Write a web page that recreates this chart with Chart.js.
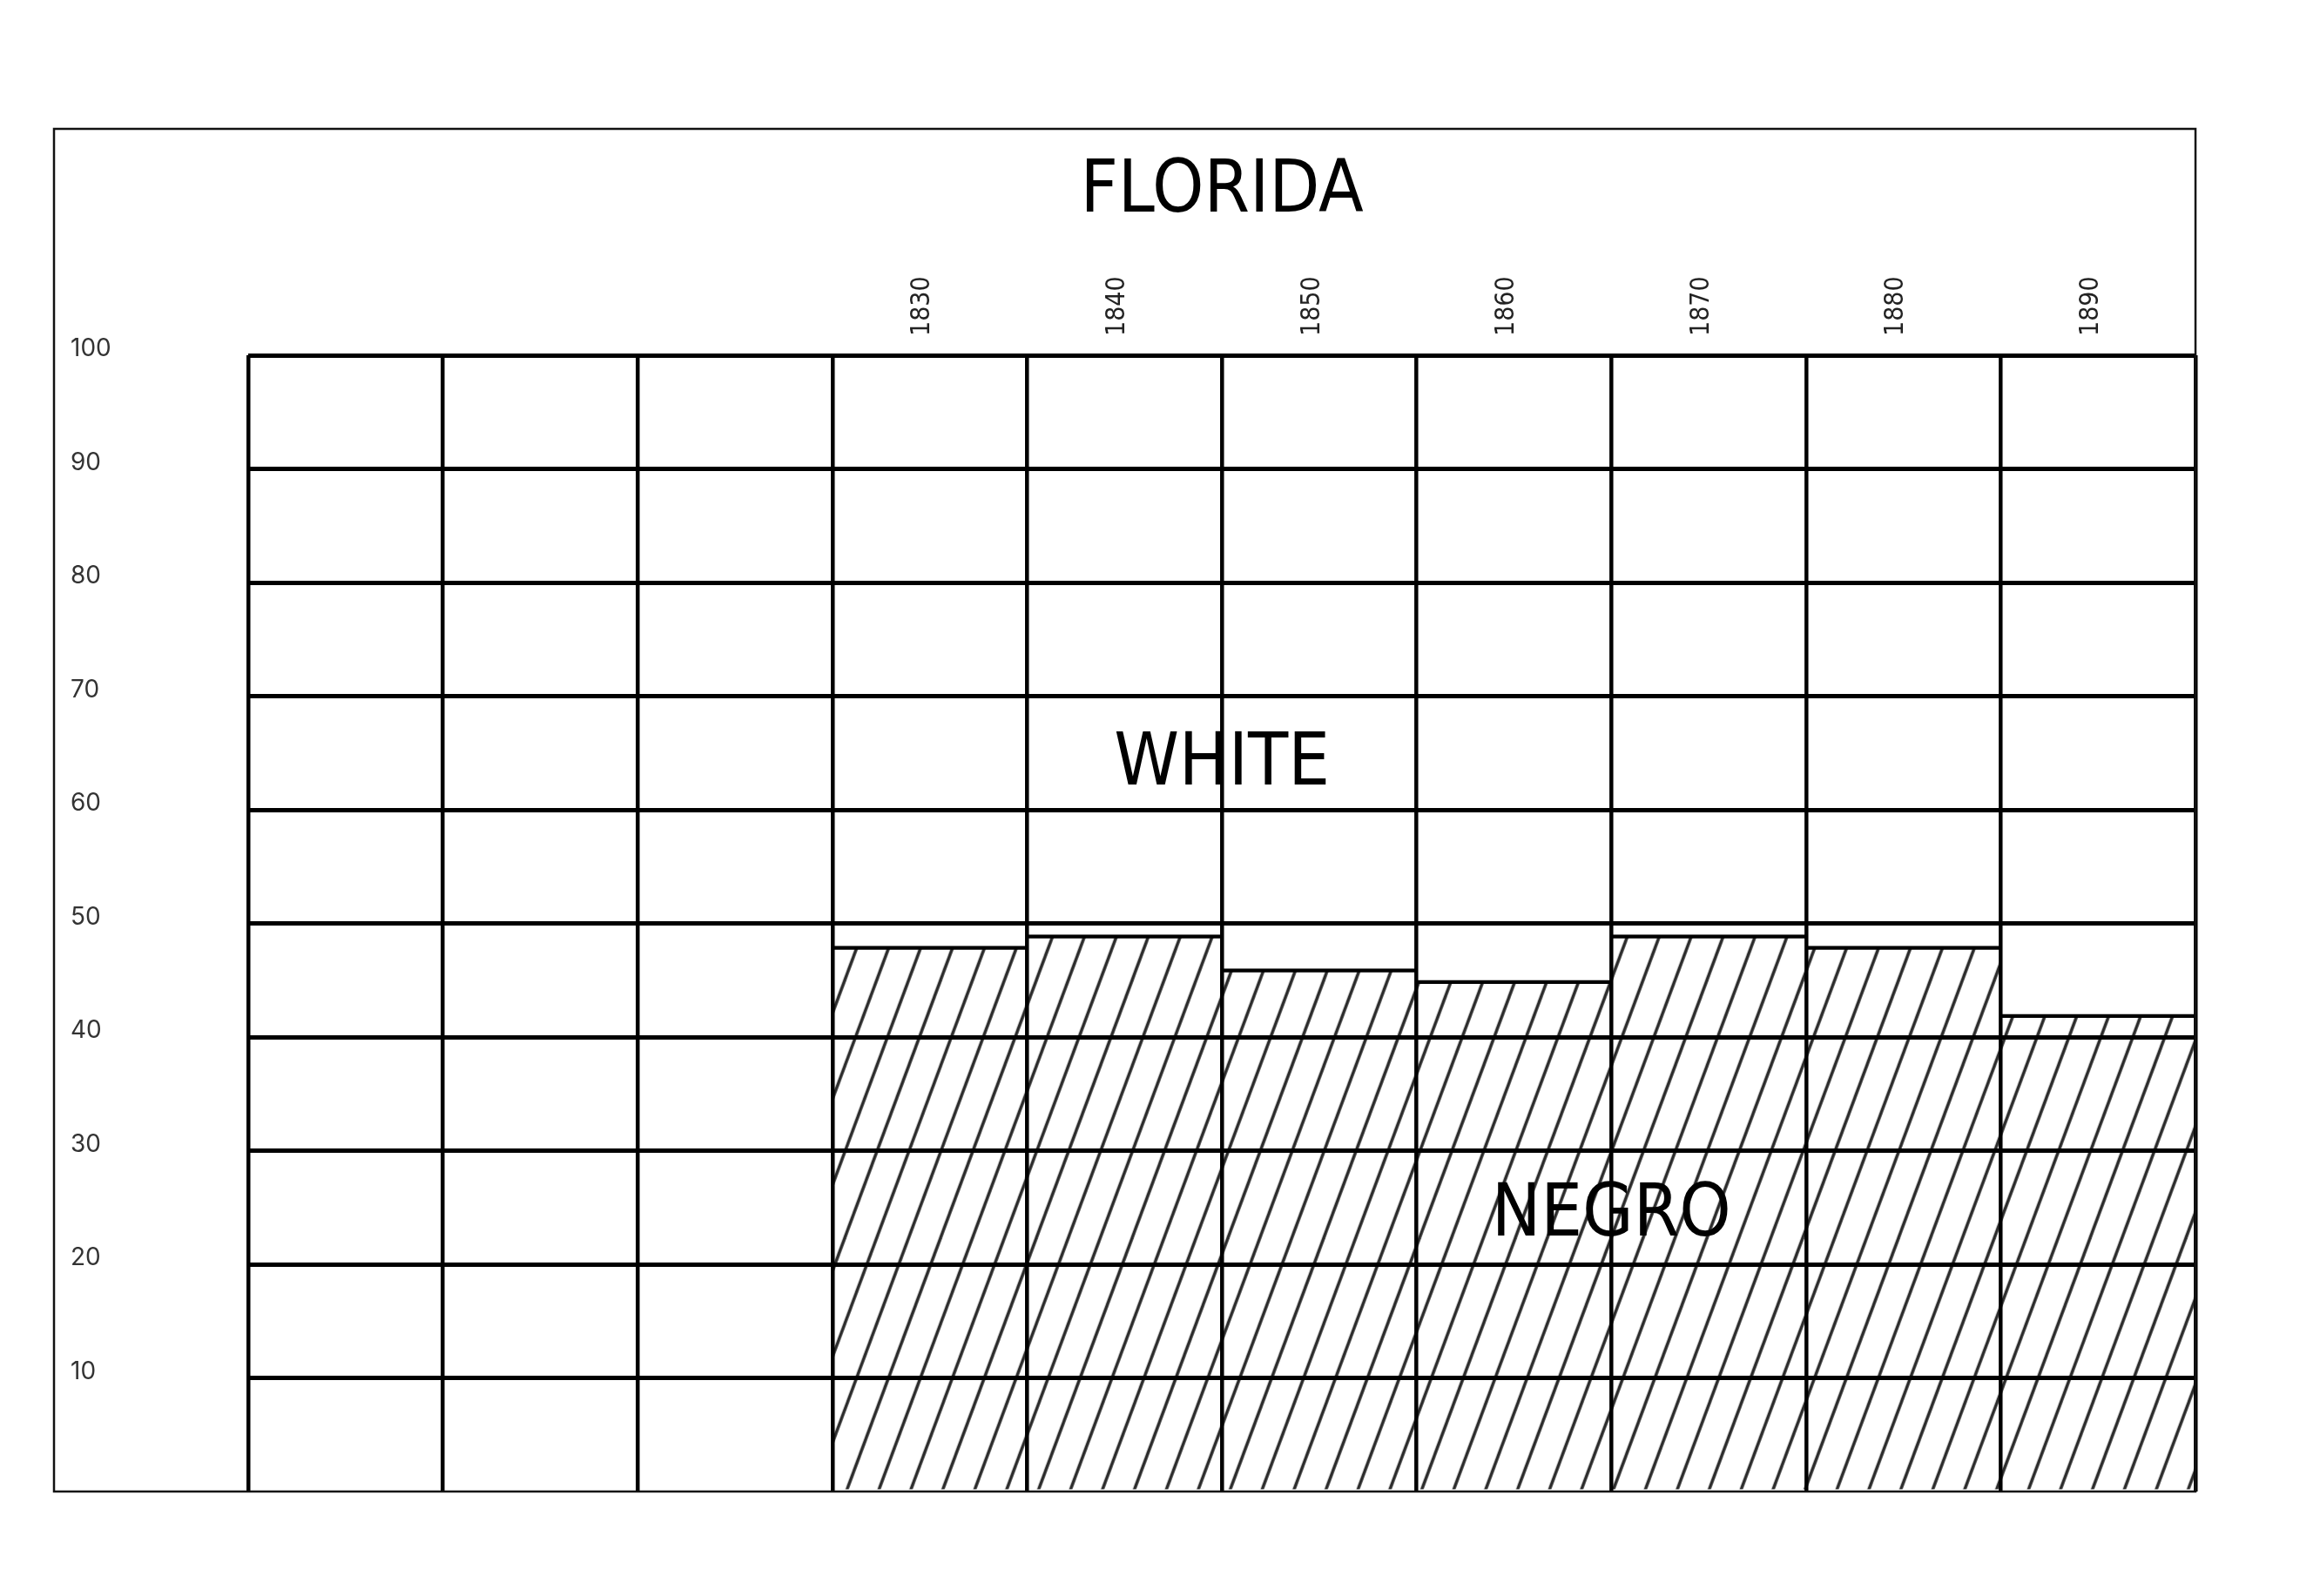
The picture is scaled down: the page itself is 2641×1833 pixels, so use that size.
<!DOCTYPE html>
<html>
<head>
<meta charset="utf-8">
<script src="https://cdn.jsdelivr.net/npm/chart.js@4.4.1/dist/chart.umd.min.js"></script>
<style>
html,body{margin:0;padding:0;background:#fff;}
#wrap{width:2641px;height:1833px;}
</style>
</head>
<body>
<div id="wrap"><canvas id="c" width="2641" height="1833"></canvas></div>
<script>
// ---- data ----
const categories = ['', '', '', '1830', '1840', '1850', '1860', '1870', '1880', '1890'];
const negroPercent = [null, null, null, 48, 49, 46, 45, 49, 48, 42];
const titleText = 'FLORIDA';
const whiteLabel = 'WHITE';
const negroLabel = 'NEGRO';
const whiteLabelValue = 62.2;   // baseline position on the percent axis
const negroLabelValue = 22.5;

// ---- style constants ----
const FRAME_LEFT = 62, FRAME_TOP = 148;
const BIG_FONT = '84px "DejaVu Sans Condensed", "DejaVu Sans", sans-serif';

const canvas = document.getElementById('c');
const mainCtx = canvas.getContext('2d');

function makeHatch() {
  const W = 110, H = 296, S = W / 3;
  const t = document.createElement('canvas');
  t.width = W; t.height = H;
  const g = t.getContext('2d');
  g.fillStyle = '#fff';
  g.fillRect(0, 0, W, H);
  g.strokeStyle = '#2b2b2b';
  g.lineWidth = 3.6;
  const ext = 12, dx = ext * W / H;
  for (let k = -4; k <= 4; k++) {
    const x0 = k * S;
    g.beginPath();
    g.moveTo(x0 - dx, H + ext);
    g.lineTo(x0 + W + dx, -ext);
    g.stroke();
  }
  const p = mainCtx.createPattern(t, 'repeat');
  if (p.setTransform) p.setTransform(new DOMMatrix([1, 0, 0, 1, 2401.7, 1713 - H]));
  return p;
}
const hatch = makeHatch();

const decor = {
  id: 'decor',
  beforeDraw(chart) {
    const ctx = chart.ctx;
    ctx.save();
    ctx.fillStyle = '#fff';
    ctx.fillRect(0, 0, chart.width, chart.height);
    ctx.restore();
  },
  afterDraw(chart) {
    const {ctx, chartArea} = chart;
    const x = chart.scales.x, y = chart.scales.y;
    ctx.save();
    ctx.strokeStyle = '#111';
    ctx.lineWidth = 2.5;
    ctx.strokeRect(FRAME_LEFT, FRAME_TOP, chartArea.right - FRAME_LEFT, chartArea.bottom - FRAME_TOP);
    ctx.fillStyle = '#000';
    ctx.font = BIG_FONT;
    ctx.textAlign = 'center';
    ctx.textBaseline = 'alphabetic';
    const cx = (chartArea.left + chartArea.right) / 2;
    ctx.fillText(titleText, cx, chartArea.top - 165);
    ctx.fillText(whiteLabel, cx, y.getPixelForValue(whiteLabelValue));
    const nx = (x.getPixelForValue(6) + x.getPixelForValue(7)) / 2;
    ctx.fillText(negroLabel, nx, y.getPixelForValue(negroLabelValue));
    ctx.restore();
  }
};

new Chart(canvas, {
  type: 'bar',
  data: {
    labels: categories,
    datasets: [{
      label: 'Negro',
      data: negroPercent,
      backgroundColor: hatch,
      borderColor: '#000',
      borderWidth: {top: 4.5, left: 0, right: 0, bottom: 0},
      borderSkipped: false,
      barPercentage: 1,
      categoryPercentage: 1
    }]
  },
  options: {
    responsive: false,
    devicePixelRatio: 1,
    animation: false,
    layout: {padding: {left: 81, right: 120, bottom: 120, top: 0}},
    plugins: {legend: {display: false}, tooltip: {enabled: false}, title: {display: false}},
    scales: {
      x: {
        position: 'top',
        z: 1,
        ticks: {
          autoSkip: false, minRotation: 90, maxRotation: 90,
          color: '#222',
          font: {family: '"DejaVu Sans Condensed", "DejaVu Sans"', size: 30},
          padding: 22,
          labelOffset: 28
        },
        grid: {color: '#000', lineWidth: 4.5, drawTicks: false, offset: true, z: 1},
        border: {display: false},
        afterFit(s) { s.height = 408; }
      },
      y: {
        min: 0, max: 100,
        z: 1,
        ticks: {
          stepSize: 10,
          color: '#333',
          font: {family: 'Inter', size: 28},
          crossAlign: 'far',
          labelOffset: -7,
          padding: 0,
          callback: v => (v === 0 ? '' : String(v))
        },
        grid: {
          color: c => (c.tick && c.tick.value === 0 ? 'rgba(0,0,0,0)' : '#000'),
          lineWidth: 5,
          drawTicks: false,
          z: 1
        },
        border: {display: false},
        afterFit(s) { s.width = 204; }
      }
    }
  },
  plugins: [decor]
});
</script>
</body>
</html>
